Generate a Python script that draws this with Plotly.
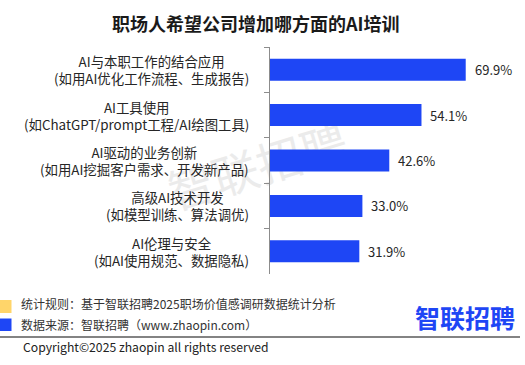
import plotly.graph_objects as go

# ---- data ----
cat_line1 = [
    "AI与本职工作的结合应用",
    "AI工具使用",
    "AI驱动的业务创新",
    "高级AI技术开发",
    "AI伦理与安全",
]
cat_line2 = [
    "(如用AI优化工作流程、生成报告)",
    "(如ChatGPT/prompt工程/AI绘图工具)",
    "(如用AI挖掘客户需求、开发新产品)",
    "(如模型训练、算法调优)",
    "(如AI使用规范、数据隐私)",
]
values = [69.9, 54.1, 42.6, 33.0, 31.9]
value_labels = ["69.9%", "54.1%", "42.6%", "33.0%", "31.9%"]

title_text = "职场人希望公司增加哪方面的AI培训"
note_rule = "统计规则：基于智联招聘2025职场价值感调研数据统计分析"
note_source = "数据来源：智联招聘（www.zhaopin.com）"
copyright_text = "Copyright©2025 zhaopin all rights reserved"
logo_text = "智联招聘"

# ---- layout geometry ----
FW, FH = 525, 365
L, W, T, H = 270, 252, 47, 227
FONT = "Noto Sans CJK SC"
BLUE = "#1E46F5"
YELLOW = "#FFD56A"


def px(x):
    return (x - L) / W


def py(y):
    return (T + H - y) / H


fig = go.Figure()
fig.add_trace(go.Bar(
    x=values,
    y=cat_line1,
    orientation="h",
    marker=dict(color=BLUE, line=dict(width=0)),
    width=0.485,
    hoverinfo="skip",
))

annotations = []
# category labels (two centered lines, block right-aligned)
for a, b in zip(cat_line1, cat_line2):
    annotations.append(dict(
        x=0, xref="paper", y=a, yref="y",
        text=f"{a}<br>{b}", showarrow=False,
        xanchor="right", yanchor="middle", align="center", xshift=-19,
        font=dict(family=FONT, size=13.4, color="#262626"),
    ))
# value labels
for a, v, t in zip(cat_line1, values, value_labels):
    annotations.append(dict(
        x=v, xref="x", y=a, yref="y", text=t, showarrow=False,
        xanchor="left", yanchor="middle", xshift=7,
        font=dict(family=FONT, size=13, color="#262626"),
    ))
# title
annotations.append(dict(
    x=px(255), y=py(23), xref="paper", yref="paper", text=f"<b>{title_text}</b>",
    showarrow=False, xanchor="center", yanchor="middle",
    font=dict(family=FONT, size=18, color="#1a1a1a"),
))
# footer notes
annotations.append(dict(
    x=px(19), y=py(303), xref="paper", yref="paper", text=note_rule,
    showarrow=False, xanchor="left", yanchor="middle",
    font=dict(family=FONT, size=12, color="#333333"),
))
annotations.append(dict(
    x=px(19), y=py(324), xref="paper", yref="paper", text=note_source,
    showarrow=False, xanchor="left", yanchor="middle",
    font=dict(family=FONT, size=12, color="#333333"),
))
annotations.append(dict(
    x=px(21), y=py(347), xref="paper", yref="paper", text=copyright_text,
    showarrow=False, xanchor="left", yanchor="middle",
    font=dict(family=FONT, size=12.2, color="#222222"),
))
annotations.append(dict(
    x=px(465), y=py(317), xref="paper", yref="paper", text=f"<b>{logo_text}</b>",
    showarrow=False, xanchor="center", yanchor="middle",
    font=dict(family=FONT, size=25, color=BLUE),
))

shapes = [
    # watermark (below traces)
    dict(type="rect", xref="paper", yref="paper",
         x0=px(159), x1=px(359), y0=py(221), y1=py(121),
         line=dict(width=0), fillcolor="rgba(0,0,0,0)", layer="below",
         label=dict(text="智联招聘", textangle=-17, textposition="middle center",
                    font=dict(family=FONT, size=46, color="#ebebeb"))),
    # legend squares
    dict(type="rect", xref="paper", yref="paper",
         x0=px(0), x1=px(11.5), y0=py(313), y1=py(300),
         line=dict(width=0), fillcolor=YELLOW),
    dict(type="rect", xref="paper", yref="paper",
         x0=px(0), x1=px(11.5), y0=py(331), y1=py(318.5),
         line=dict(width=0), fillcolor=BLUE),
    # separator line
    dict(type="line", xref="paper", yref="paper",
         x0=px(0), x1=px(520), y0=py(337), y1=py(337),
         line=dict(color="#5a5a5a", width=1.5)),
]

fig.update_layout(
    width=FW, height=FH,
    margin=dict(l=L, r=FW - L - W, t=T, b=FH - T - H, pad=0),
    paper_bgcolor="white", plot_bgcolor="white",
    showlegend=False,
    annotations=annotations,
    shapes=shapes,
    xaxis=dict(range=[0, 90], visible=False, fixedrange=True),
    yaxis=dict(
        autorange="reversed", type="category",
        showticklabels=False, showgrid=False, zeroline=False,
        showline=True, linecolor="#8c8c8c", linewidth=1,
        ticks="outside", tickson="boundaries", ticklen=5,
        tickcolor="#8c8c8c", tickwidth=1,
    ),
)

fig.write_html("out.html")
